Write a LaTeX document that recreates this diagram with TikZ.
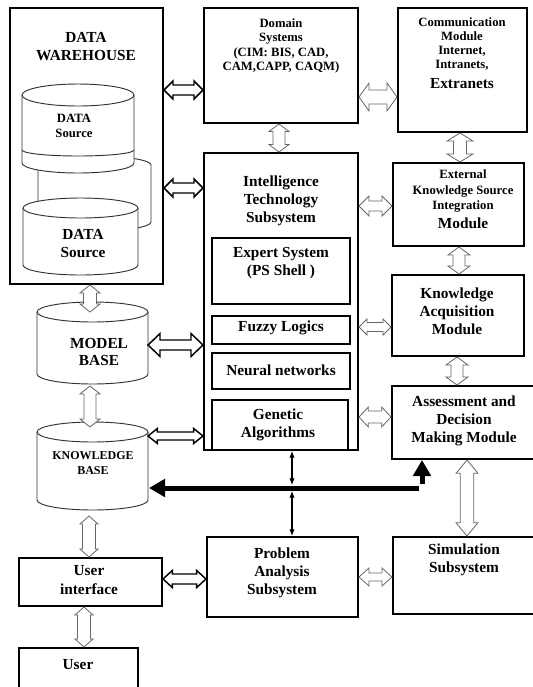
\documentclass[tikz,border=0pt]{standalone}
\usepackage{fontspec}
\setmainfont{Liberation Serif}
\usetikzlibrary{arrows.meta,fit,calc}

\tikzset{
  box/.style={draw, line width=1.5pt, inner sep=0pt},
  subbox/.style={draw, line width=1pt, inner sep=0pt},
  cylline/.style={line width=0.7pt, draw=black!80},
  bigtxt/.style={align=center, font=\bfseries\fontsize{11.5}{13.5}\selectfont, inner sep=0pt},
  smalltxt/.style={align=center, font=\bfseries\fontsize{9.5}{11}\selectfont, inner sep=0pt},
  % hollow double arrow: {half shaft}{half head}{head length}
  harrow/.style n args={3}{line width=0.6pt, draw=black!60, fill=white, line join=miter, to path={
    -- ($(\tikztostart)!#3!(\tikztotarget)!#2!90:(\tikztotarget)$)
    -- ($(\tikztostart)!#3!(\tikztotarget)!#1!90:(\tikztotarget)$)
    -- ($(\tikztotarget)!#3!(\tikztostart)!#1!-90:(\tikztostart)$)
    -- ($(\tikztotarget)!#3!(\tikztostart)!#2!-90:(\tikztostart)$)
    -- (\tikztotarget)
    -- ($(\tikztotarget)!#3!(\tikztostart)!#2!90:(\tikztostart)$)
    -- ($(\tikztotarget)!#3!(\tikztostart)!#1!90:(\tikztostart)$)
    -- ($(\tikztostart)!#3!(\tikztotarget)!#1!-90:(\tikztotarget)$)
    -- ($(\tikztostart)!#3!(\tikztotarget)!#2!-90:(\tikztotarget)$)
    -- cycle}},
  dark/.style={draw=black, line width=1.1pt},
  fatarrow/.style={line width=3.75pt, -{Triangle[length=12pt,width=13pt]}},
  thinarrow/.style={line width=0.8pt, {Latex[length=5pt,width=4pt]}-{Latex[length=5pt,width=4pt]}},
}

\begin{document}
\begin{tikzpicture}[x=0.75pt,y=-0.75pt]
\useasboundingbox (0,0) rectangle (533,687);

% data warehouse with stacked sources
\node[box, fit={(10,8) (163,284)}] (dw) {};
\node[bigtxt] (dwtxt) at (86,47) {DATA\\WAREHOUSE};

\draw[cylline, fill=white] (38,165) -- (38,222) arc[start angle=180, end angle=0, x radius=56.5, y radius=9] -- (151,165) arc[start angle=0, end angle=-180, x radius=56.5, y radius=9] -- cycle;

\draw[cylline, fill=white] (22,95) -- (22,163) arc[start angle=180, end angle=0, x radius=56, y radius=10] -- (134,95) arc[start angle=0, end angle=-180, x radius=56, y radius=11] -- cycle;
\draw[cylline] (22,95) arc[start angle=180, end angle=0, x radius=56, y radius=11];
\draw[cylline] (22,150) arc[start angle=180, end angle=0, x radius=56, y radius=6];

\draw[cylline, fill=white] (23,208) -- (23,265) arc[start angle=180, end angle=0, x radius=57.5, y radius=10] -- (138,208) arc[start angle=0, end angle=-180, x radius=57.5, y radius=10] -- cycle;
\draw[cylline] (23,208) arc[start angle=180, end angle=0, x radius=57.5, y radius=10];

\node[smalltxt] (ds1) at (74,126) {DATA\\Source};
\node[bigtxt] (ds2) at (83,244) {DATA\\Source};

% top row
\node[box, fit={(204,8) (358,123)}] (dom) {};
\node[smalltxt, font=\bfseries\fontsize{9.5}{10.9}\selectfont] (domtxt) at (281,46) {Domain\\Systems\\(CIM: BIS, CAD,\\CAM,CAPP, CAQM)};

\node[box, fit={(398,8) (527,132)}] (com) {};
\node[smalltxt, font=\bfseries\fontsize{9.5}{10.3}\selectfont] (comtxt) at (462,44) {Communication\\Module\\Internet,\\Intranets,};
\node[bigtxt] (extra) at (462,84) {Extranets};

% intelligence technology
\node[box, fit={(204,153) (358,450)}] (its) {};
\node[bigtxt] (itstxt) at (281,201) {Intelligence\\Technology\\Subsystem};
\node[subbox, fit={(212,238) (350,304)}] (exp) {};
\node[bigtxt] (exptxt) at (281,263) {Expert System\\(PS Shell )};
\node[subbox, fit={(212,316) (350,344)}] (fuz) {};
\node[bigtxt] (fuztxt) at (281,328) {Fuzzy Logics};
\node[subbox, fit={(212,353) (350,389)}] (neu) {};
\node[bigtxt] (neutxt) at (281,370) {Neural networks};
\node[subbox, fit={(212,400) (348,450)}] (gen) {};
\node[bigtxt] (gentxt) at (278,425) {Genetic\\Algorithms};

% right column
\node[box, fit={(393,163) (524,246)}] (ext) {};
\node[smalltxt, font=\bfseries\fontsize{9.5}{11.6}\selectfont] (exttxt) at (463,191) {External\\Knowledge Source\\Integration};
\node[bigtxt] (extmod) at (463,223) {Module};

\node[box, fit={(392,275) (524,356)}] (kac) {};
\node[bigtxt] (kactxt) at (457,311) {Knowledge\\Acquisition\\Module};

\node[box, fit={(392,386) (545,459)}] (asm) {};
\node[bigtxt] (asmtxt) at (464,421) {Assessment and\\Decision\\Making Module};

% model base and knowledge base
\draw[cylline, fill=white] (37,312) -- (37,374) arc[start angle=180, end angle=0, x radius=55.5, y radius=10] -- (148,312) arc[start angle=0, end angle=-180, x radius=55.5, y radius=10] -- cycle;
\draw[cylline] (37,312) arc[start angle=180, end angle=0, x radius=55.5, y radius=10];
\node[bigtxt, font=\bfseries\fontsize{11.5}{12.75}\selectfont] (mbtxt) at (99,352) {MODEL\\BASE};
\coordinate (mbN) at (90,312);
\coordinate (mbS) at (90,386);
\coordinate (mbE) at (148,345);

\draw[cylline, fill=white] (37,432) -- (37,500) arc[start angle=180, end angle=0, x radius=55.5, y radius=10] -- (148,432) arc[start angle=0, end angle=-180, x radius=55.5, y radius=10] -- cycle;
\draw[cylline] (37,432) arc[start angle=180, end angle=0, x radius=55.5, y radius=10];
\node[smalltxt, font=\bfseries\fontsize{9}{11.25}\selectfont] (kbtxt) at (93,463) {KNOWLEDGE\\BASE};
\coordinate (kbN) at (90,427);
\coordinate (kbS) at (89,516);
\coordinate (kbE) at (148,436);
\coordinate (kbW) at (149,488);

% bottom row
\node[box, fit={(19,558) (162,606)}] (ui) {};
\node[bigtxt, font=\bfseries\fontsize{11.5}{14}\selectfont] (uitxt) at (89,580) {User\\interface};
\node[box, fit={(19,648) (138,700)}] (usr) {};
\node[bigtxt] (usrtxt) at (78,665) {User};

\node[box, fit={(207,537) (358,617)}] (pas) {};
\node[bigtxt] (pastxt) at (282,573) {Problem\\Analysis\\Subsystem};
\node[box, fit={(393,537) (545,614)}] (sim) {};
\node[bigtxt] (simtxt) at (464,560) {Simulation\\Subsystem};

% hollow arrows
\draw[harrow={3.75pt}{6.75pt}{6.75pt}, dark] (dw.east |- 0,90) to (dom.west |- 0,90);
\draw[harrow={3.75pt}{6.75pt}{6.75pt}, dark] (dw.east |- 0,188) to (its.west |- 0,188);
\draw[harrow={5.25pt}{10.5pt}{7.5pt}] (dom.east |- 0,97) to (com.west |- 0,97);
\draw[harrow={4.5pt}{7.5pt}{5.6pt}] (dom.south -| 279,0) to (its.north -| 279,0);
\draw[harrow={4.9pt}{9.75pt}{6pt}] (com.south -| 460,0) to (ext.north -| 460,0);
\draw[harrow={3.75pt}{7.5pt}{7.5pt}] (its.east |- 0,206) to (ext.west |- 0,206);
\draw[harrow={4.5pt}{8.25pt}{6pt}] (ext.south -| 459,0) to (kac.north -| 459,0);
\draw[harrow={3.4pt}{6pt}{6pt}] (its.east |- 0,327) to (kac.west |- 0,327);
\draw[harrow={4.5pt}{8.25pt}{6pt}] (kac.south -| 457,0) to (asm.north -| 457,0);
\draw[harrow={4.5pt}{7.5pt}{7pt}] (its.east |- 0,417) to (asm.west |- 0,417);
\draw[harrow={4.9pt}{7.5pt}{6pt}] (dw.south -| mbN) to (mbN);
\draw[harrow={3.75pt}{8.6pt}{9pt}, dark] (mbE) to (its.west |- mbE);
\draw[harrow={4.5pt}{7.5pt}{6pt}] (mbS) to (kbN);
\draw[harrow={3pt}{5.6pt}{7pt}, dark] (kbE) to (its.west |- kbE);
\draw[harrow={4.9pt}{6.75pt}{6pt}] (kbS) to (ui.north -| kbS);
\draw[harrow={3.75pt}{6.4pt}{7pt}, dark] (ui.east |- 0,579) to (pas.west |- 0,579);
\draw[harrow={4.9pt}{6.75pt}{6pt}] (ui.south -| 84,0) to (usr.north -| 84,0);
\draw[harrow={3pt}{6.75pt}{7.5pt}] (pas.east |- 0,577) to (sim.west |- 0,577);
\draw[harrow={5pt}{8.25pt}{10pt}] (asm.south -| 467,0) to (sim.north -| 467,0);

% black arrows
\coordinate (hbend) at (419,488);
\coordinate (vfoot) at (422,484);
\coordinate (busT) at (292,485);
\coordinate (busB) at (292,491);
\draw[fatarrow] (hbend) -- (kbW);
\draw[fatarrow] (vfoot) -- (asm.south -| vfoot);
\draw[thinarrow] (its.south -| busT) -- (busT);
\draw[thinarrow] (busB) -- (pas.north -| busB);

\end{tikzpicture}
\end{document}
